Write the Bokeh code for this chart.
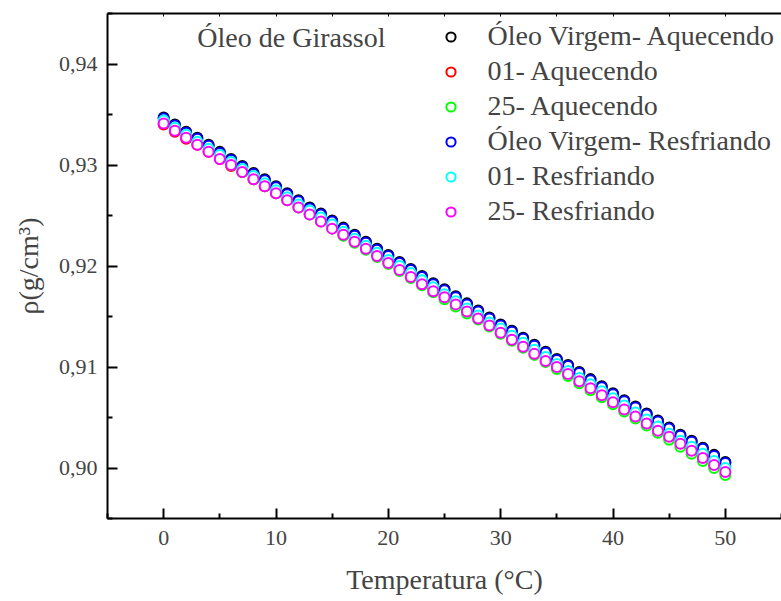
from bokeh.plotting import figure
from bokeh.models import (Range1d, FixedTicker, CustomJSTickFormatter, LinearAxis,
                          Legend, LegendItem, Label)
from bokeh.embed import file_html
from bokeh.resources import INLINE

temperatura = list(range(0, 51))

virgem_aquecendo = [
    0.9347, 0.9340, 0.9333, 0.9327, 0.9320, 0.9313, 0.9306, 0.9299, 0.9292, 0.9286,
    0.9279, 0.9272, 0.9265, 0.9258, 0.9252, 0.9245, 0.9238, 0.9231, 0.9224, 0.9217,
    0.9211, 0.9204, 0.9197, 0.9190, 0.9183, 0.9177, 0.9170, 0.9163, 0.9156, 0.9149,
    0.9142, 0.9136, 0.9129, 0.9122, 0.9115, 0.9108, 0.9102, 0.9095, 0.9088, 0.9081,
    0.9074, 0.9067, 0.9061, 0.9054, 0.9047, 0.9040, 0.9033, 0.9027, 0.9020, 0.9013,
    0.9006]
aquecendo_01 = [
    0.9340, 0.9333, 0.9326, 0.9320, 0.9313, 0.9306, 0.9299, 0.9293, 0.9286, 0.9279,
    0.9272, 0.9266, 0.9259, 0.9252, 0.9245, 0.9239, 0.9232, 0.9225, 0.9218, 0.9212,
    0.9205, 0.9198, 0.9191, 0.9184, 0.9178, 0.9171, 0.9164, 0.9158, 0.9151, 0.9144,
    0.9137, 0.9130, 0.9124, 0.9117, 0.9110, 0.9103, 0.9097, 0.9090, 0.9083, 0.9076,
    0.9070, 0.9063, 0.9056, 0.9049, 0.9043, 0.9036, 0.9029, 0.9022, 0.9015, 0.9009,
    0.9002]
aquecendo_25 = [
    0.9342, 0.9335, 0.9328, 0.9321, 0.9314, 0.9307, 0.9300, 0.9293, 0.9286, 0.9279,
    0.9272, 0.9265, 0.9258, 0.9251, 0.9244, 0.9237, 0.9230, 0.9223, 0.9216, 0.9209,
    0.9202, 0.9195, 0.9188, 0.9181, 0.9174, 0.9167, 0.9160, 0.9153, 0.9147, 0.9140,
    0.9133, 0.9126, 0.9119, 0.9112, 0.9105, 0.9098, 0.9091, 0.9084, 0.9077, 0.9070,
    0.9063, 0.9056, 0.9049, 0.9042, 0.9035, 0.9028, 0.9021, 0.9014, 0.9007, 0.9000,
    0.8993]
virgem_resfriando = [
    0.9346, 0.9339, 0.9332, 0.9326, 0.9319, 0.9312, 0.9305, 0.9298, 0.9291, 0.9285,
    0.9278, 0.9271, 0.9264, 0.9257, 0.9251, 0.9244, 0.9237, 0.9230, 0.9223, 0.9216,
    0.9210, 0.9203, 0.9196, 0.9189, 0.9182, 0.9176, 0.9169, 0.9162, 0.9155, 0.9148,
    0.9141, 0.9135, 0.9128, 0.9121, 0.9114, 0.9107, 0.9101, 0.9094, 0.9087, 0.9080,
    0.9073, 0.9066, 0.9060, 0.9053, 0.9046, 0.9039, 0.9032, 0.9026, 0.9019, 0.9012,
    0.9005]
resfriando_01 = [
    0.9344, 0.9337, 0.9330, 0.9323, 0.9316, 0.9310, 0.9303, 0.9296, 0.9289, 0.9282,
    0.9275, 0.9268, 0.9261, 0.9255, 0.9248, 0.9241, 0.9234, 0.9227, 0.9220, 0.9213,
    0.9206, 0.9200, 0.9193, 0.9186, 0.9179, 0.9172, 0.9165, 0.9158, 0.9151, 0.9144,
    0.9138, 0.9131, 0.9124, 0.9117, 0.9110, 0.9103, 0.9096, 0.9089, 0.9083, 0.9076,
    0.9069, 0.9062, 0.9055, 0.9048, 0.9041, 0.9034, 0.9027, 0.9021, 0.9014, 0.9007,
    0.9000]
resfriando_25 = [
    0.9341, 0.9334, 0.9327, 0.9320, 0.9313, 0.9306, 0.9300, 0.9293, 0.9286, 0.9279,
    0.9272, 0.9265, 0.9258, 0.9251, 0.9244, 0.9237, 0.9231, 0.9224, 0.9217, 0.9210,
    0.9203, 0.9196, 0.9189, 0.9182, 0.9175, 0.9169, 0.9162, 0.9155, 0.9148, 0.9141,
    0.9134, 0.9127, 0.9120, 0.9113, 0.9106, 0.9100, 0.9093, 0.9086, 0.9079, 0.9072,
    0.9065, 0.9058, 0.9051, 0.9044, 0.9037, 0.9031, 0.9024, 0.9017, 0.9010, 0.9003,
    0.8996]

series_labels = ["Óleo Virgem- Aquecendo", "01- Aquecendo", "25- Aquecendo",
                 "Óleo Virgem- Resfriando", "01- Resfriando", "25- Resfriando"]
series_values = [virgem_aquecendo, aquecendo_01, aquecendo_25,
                 virgem_resfriando, resfriando_01, resfriando_25]
series_colors = ["#000000", "#FF0000", "#00FF00", "#0000FF", "#00FFFF", "#FF00FF"]

x_major = [0, 10, 20, 30, 40, 50]
x_minor = [-5, 5, 15, 25, 35, 45, 55]
top_ticks = [0, 5, 10, 15, 20, 25, 30, 35, 40, 45, 50]
y_major = [0.90, 0.91, 0.92, 0.93, 0.94]
y_minor = [0.895, 0.905, 0.915, 0.925, 0.935, 0.945]

FONT = "Liberation Serif"

p = figure(width=781, height=601, output_backend="svg", toolbar_location=None,
           x_range=Range1d(-5, 55), y_range=Range1d(0.895, 0.945),
           min_border_left=107, min_border_right=0, min_border_top=13,
           min_border_bottom=83)
p.outline_line_color = None
p.xgrid.visible = False
p.ygrid.visible = False

renderers = []
for vals, col in zip(series_values, series_colors):
    r = p.scatter(temperatura, vals, size=10, line_width=2, line_color=col,
                  fill_color="white")
    renderers.append(r)

def style_axis(ax):
    ax.axis_line_width = 2
    ax.major_tick_line_width = 2
    ax.minor_tick_line_width = 2
    ax.major_tick_in = 10
    ax.major_tick_out = 0
    ax.minor_tick_in = 5
    ax.minor_tick_out = 0
    ax.major_label_text_font = FONT
    ax.major_label_text_font_size = "22px"
    ax.axis_label_text_font = FONT
    ax.axis_label_text_font_size = "28px"
    ax.axis_label_text_font_style = "normal"

xa = p.xaxis[0]
xa.ticker = FixedTicker(ticks=x_major, minor_ticks=x_minor)
style_axis(xa)
xa.major_label_standoff = 12
xa.axis_label = "Temperatura (°C)"
xa.axis_label_standoff = 16

ya = p.yaxis[0]
ya.ticker = FixedTicker(ticks=y_major, minor_ticks=y_minor)
ya.formatter = CustomJSTickFormatter(code="return tick.toFixed(2).replace('.', ',');")
style_axis(ya)
ya.major_label_standoff = 10
ya.axis_label = "ρ(g/cm³)"
ya.axis_label_standoff = 12

top = LinearAxis(ticker=FixedTicker(ticks=top_ticks, minor_ticks=[]),
                 formatter=CustomJSTickFormatter(code="return '';"),
                 major_tick_in=3, major_tick_out=0, minor_tick_in=0, minor_tick_out=0,
                 axis_line_width=2, major_tick_line_width=1,
                 major_label_standoff=0)
p.add_layout(top, "above")

p.add_layout(Label(x=3.0, y=0.9411, text="Óleo de Girassol", text_font=FONT,
                   text_font_size="28px"))

legend = Legend(items=[LegendItem(label=l, renderers=[r])
                       for l, r in zip(series_labels, renderers)],
                location=(331.5, 291), border_line_color=None,
                background_fill_alpha=0, padding=0, margin=0, spacing=3,
                glyph_width=23, glyph_height=27, label_height=27,
                label_standoff=26, label_text_font=FONT,
                label_text_font_size="28px")
p.add_layout(legend)

open("out.html", "w").write(file_html(p, INLINE))
